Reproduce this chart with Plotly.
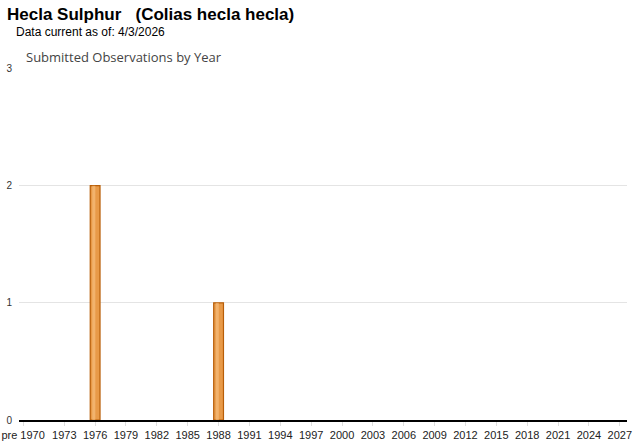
import plotly.graph_objects as go

years = [1976, 1988]
counts = [2, 1]
tick_vals = [1969] + list(range(1973, 2028, 3))
tick_text = ["pre 1970"] + [str(y) for y in range(1973, 2028, 3)]

W, H = 640, 442
ML, MR, MT, MB = 19, 13, 68, 22

fig = go.Figure()
fig.add_trace(go.Bar(
    x=years, y=counts, width=0.95,
    marker=dict(color="#E89A48", line=dict(color="#B85E08", width=1.2)),
    hoverinfo="x+y", showlegend=False,
))
fig.add_trace(go.Bar(
    x=years, y=counts, width=0.3, offset=-0.28,
    marker=dict(color="rgba(250,200,140,0.55)", line=dict(width=0)),
    hoverinfo="skip", showlegend=False,
))

pw, ph = W - ML - MR, H - MT - MB


def px(x):
    return (x - ML) / pw


def py(y_from_top):
    return (H - y_from_top - MB) / ph


fig.update_layout(
    width=W, height=H,
    margin=dict(l=ML, r=MR, t=MT, b=MB),
    paper_bgcolor="white", plot_bgcolor="white",
    barmode="overlay",
    font=dict(family="Arial, Liberation Sans, sans-serif", size=11, color="#222"),
    xaxis=dict(
        range=[1968.6, 2027.7], tickmode="array", tickvals=tick_vals, ticktext=tick_text,
        showgrid=False, zeroline=False, showline=True, linecolor="#000", linewidth=2,
        ticks="outside", ticklen=4, tickcolor="#ddd", tickfont=dict(size=11, color="#222"),
        fixedrange=True, automargin=False,
    ),
    yaxis=dict(
        range=[0, 3.005], tickvals=[0, 1, 2, 3], showgrid=True, gridcolor="#e4e4e4",
        zeroline=False, showline=False, ticks="", tickfont=dict(size=10, color="#333"),
        ticklabelstandoff=6, fixedrange=True, automargin=False,
    ),
    annotations=[
        dict(text="<b>Hecla Sulphur   (Colias hecla hecla)</b>", x=px(5), y=py(14),
             xref="paper", yref="paper", showarrow=False, xanchor="left", yanchor="middle",
             font=dict(size=17, color="#000", family="Arial, Liberation Sans, sans-serif")),
        dict(text="Data current as of: 4/3/2026", x=px(14), y=py(32),
             xref="paper", yref="paper", showarrow=False, xanchor="left", yanchor="middle",
             font=dict(size=12, color="#000", family="Arial, Liberation Sans, sans-serif")),
        dict(text="Submitted Observations by Year", x=px(24), y=py(57),
             xref="paper", yref="paper", showarrow=False, xanchor="left", yanchor="middle",
             font=dict(size=13, color="#444", family="Open Sans, DejaVu Sans, sans-serif")),
    ],
)

fig.write_html("out.html", config={"displayModeBar": False},
               post_script="document.body.style.margin='0';document.body.style.overflow='hidden';")
